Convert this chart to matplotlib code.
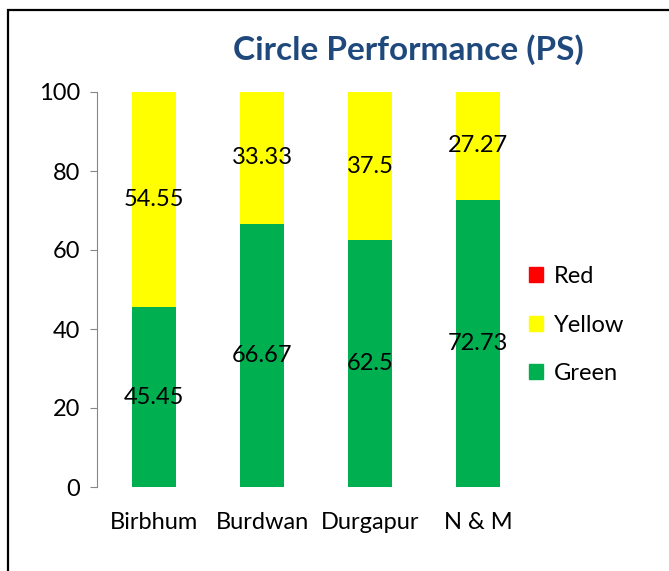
import numpy as np
import matplotlib.pyplot as plt
from matplotlib.patches import Rectangle, Patch

plt.rcParams['font.family'] = ['Lato', 'DejaVu Sans']

circles = ['Birbhum', 'Burdwan', 'Durgapur', 'N & M']
green = [45.45, 66.67, 62.5, 72.73]
yellow = [54.55, 33.33, 37.5, 27.27]
red = [0, 0, 0, 0]

fig = plt.figure(figsize=(6.69, 5.71), dpi=100)
ax = fig.add_axes([97 / 669, 1 - 487 / 571, (535 - 97) / 669, (487 - 92) / 571])

x = np.arange(len(circles))
w = 0.41
g = np.array(green)
yl = np.array(yellow)
ax.bar(x, g, w, color='#00B050', label='Green')
ax.bar(x, yl, w, bottom=g, color='#FFFF00', label='Yellow')
ax.bar(x, red, w, bottom=g + yl, color='#FF0000', label='Red')

for i in range(len(circles)):
    ax.text(x[i], g[i] / 2, f'{green[i]:g}', ha='center', va='center', fontsize=17)
    ax.text(x[i], g[i] + yl[i] / 2, f'{yellow[i]:g}', ha='center', va='center', fontsize=17)

ax.set_xlim(-0.53, 3.53)
ax.set_ylim(0, 100)
ax.set_yticks([0, 20, 40, 60, 80, 100])
ax.set_xticks(x)
ax.set_xticklabels(circles, fontsize=17)
ax.tick_params(axis='y', labelsize=17, length=5, color='#868686', pad=7)
ax.tick_params(axis='x', length=0, pad=18)
for s in ['top', 'right', 'bottom']:
    ax.spines[s].set_visible(False)
ax.spines['left'].set_color('#868686')

handles = [Patch(color='#FF0000', label='Red'),
           Patch(color='#FFFF00', label='Yellow'),
           Patch(color='#00B050', label='Green')]
fig.legend(handles=handles, loc='center left', bbox_to_anchor=(508 / 669, 1 - 325 / 571),
           frameon=False, fontsize=17, handlelength=0.6, handleheight=0.6,
           handletextpad=0.45, labelspacing=1.17)

fig.text(408 / 669, 1 - 50 / 571, 'Circle Performance (PS)', ha='center', va='center',
         fontsize=24, fontweight='bold', color='#1F497D')

fig.patches.append(Rectangle((8 / 669, -0.1), 1.1, 1 - 10 / 571 + 0.1, transform=fig.transFigure,
                             fill=False, edgecolor='black', linewidth=1.6, clip_on=False))

fig.savefig('out.png', dpi=100)
